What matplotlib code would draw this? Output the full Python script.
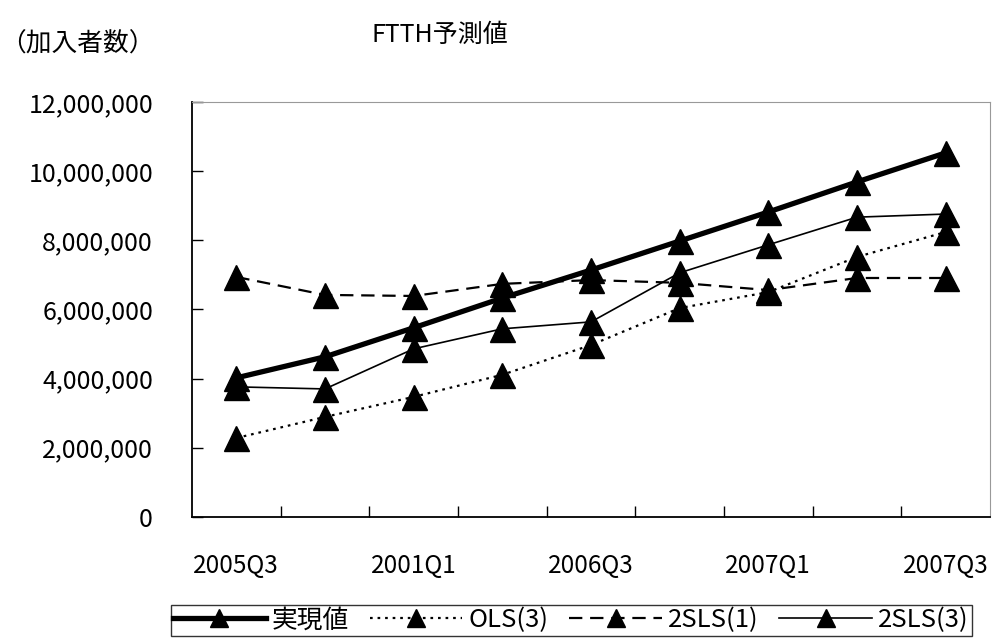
import matplotlib
matplotlib.use('Agg')
import matplotlib.pyplot as plt
from matplotlib.ticker import FuncFormatter, MultipleLocator

plt.rcParams['font.family'] = ['Noto Sans CJK JP', 'DejaVu Sans']

# 四半期ラベル（2つおきに表示）
quarters = ['2005Q3', '', '2001Q1', '', '2006Q3', '', '2007Q1', '', '2007Q3']

# 加入者数
actual = [4020000, 4630000, 5470000, 6330000, 7140000, 7980000, 8820000, 9690000, 10530000]
ols3 = [2280000, 2890000, 3470000, 4110000, 4970000, 6040000, 6500000, 7520000, 8240000]
sls1 = [6940000, 6420000, 6390000, 6740000, 6850000, 6770000, 6560000, 6910000, 6910000]
sls3 = [3760000, 3700000, 4860000, 5440000, 5640000, 7060000, 7870000, 8670000, 8760000]

fig = plt.figure(figsize=(10, 6.42), dpi=100)
ax = fig.add_axes([0.192, 0.195, 0.798, 0.646])

x = list(range(len(quarters)))
mk = dict(marker='^', markersize=18, color='black')
ax.plot(x, actual, linewidth=3.8, label='実現値', **mk)
ax.plot(x, ols3, linewidth=1.6, linestyle=(0, (1.2, 2.2)), label='OLS(3)', **mk)
ax.plot(x, sls1, linewidth=1.6, linestyle=(0, (6, 3.5)), label='2SLS(1)', **mk)
ax.plot(x, sls3, linewidth=1.2, label='2SLS(3)', **mk)

ax.set_xlim(-0.5, len(quarters) - 0.5)
ax.set_ylim(0, 12000000)
ax.yaxis.set_major_locator(MultipleLocator(2000000))
ax.yaxis.set_major_formatter(FuncFormatter(lambda v, p: f'{int(v):,}'))

# 目盛りは区切り位置、ラベルは中央
ax.set_xticks([i + 0.5 for i in x[:-1]])
ax.set_xticklabels([])
ax.set_xticks(x, minor=True)
ax.set_xticklabels(quarters, minor=True)
ax.tick_params(axis='x', which='major', direction='in', length=8, width=1)
ax.tick_params(axis='x', which='minor', length=0, pad=26, labelsize=17.5)
ax.tick_params(axis='y', direction='in', length=8, width=1, pad=28, labelsize=18)

for side in ['left', 'bottom']:
    ax.spines[side].set_linewidth(1.3)
ax.spines['top'].set_color('#999999')
ax.spines['right'].set_color('#999999')

fig.text(0.44, 0.945, 'FTTH予測値', ha='center', va='center', fontsize=18)
fig.text(0.0, 0.93, '（加入者数）', ha='left', va='center', fontsize=18.5)

leg = ax.legend(loc='center', bbox_to_anchor=(0.475, -0.25), ncol=4, frameon=True,
                fancybox=False, edgecolor='black', fontsize=18.5, handlelength=3.6,
                handletextpad=0.25, columnspacing=0.8, borderpad=0.1, markerscale=0.75)
leg.get_frame().set_linewidth(1.0)

plt.savefig('out.png', dpi=100)
